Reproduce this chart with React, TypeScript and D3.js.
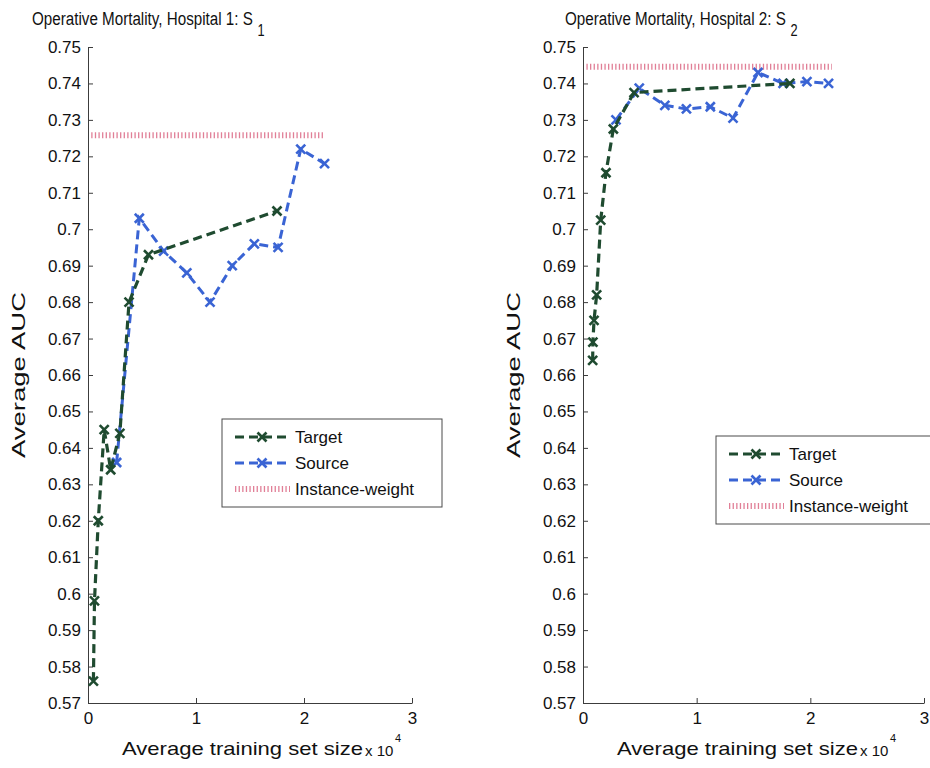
import React, { useRef, useEffect } from 'react'
import { select, line, scaleLinear, axisBottom, axisLeft } from 'd3'

// y ticks (AUC), x ticks in units of 10^4
const yTicks = [0.57, 0.58, 0.59, 0.6, 0.61, 0.62, 0.63, 0.64, 0.65, 0.66, 0.67, 0.68, 0.69, 0.7, 0.71, 0.72, 0.73, 0.74, 0.75]
const xTicks = [0, 1, 2, 3]

// Hospital 1
const h1TargetX = [500, 600, 950, 1500, 2100, 2950, 3800, 5600, 17500]
const h1TargetY = [0.576, 0.598, 0.62, 0.645, 0.634, 0.644, 0.68, 0.693, 0.705]
const h1SourceX = [2650, 4750, 7000, 9150, 11300, 13350, 15400, 17600, 19700, 21900]
const h1SourceY = [0.636, 0.703, 0.694, 0.688, 0.68, 0.69, 0.696, 0.695, 0.722, 0.718]
const h1Instance = 0.7258
const h1InstanceX = [300, 21800]

// Hospital 2
const h2TargetX = [850, 870, 970, 1200, 1560, 2020, 2670, 4490, 18200]
const h2TargetY = [0.664, 0.669, 0.675, 0.682, 0.7025, 0.7155, 0.7275, 0.7375, 0.74]
const h2SourceX = [2900, 4950, 7200, 9100, 11200, 13200, 15400, 17600, 19700, 21600]
const h2SourceY = [0.73, 0.7387, 0.734, 0.733, 0.7336, 0.7305, 0.743, 0.74, 0.7405, 0.74]
const h2Instance = 0.7446
const h2InstanceX = [300, 21900]

const legendLabels = ['Target', 'Source', 'Instance-weight']

const targetColor = '#1f4b30'
const sourceColor = '#3a64d4'
const instanceColor = '#dc6a86'
const font = 'Liberation Sans, Arial, Helvetica, sans-serif'

function Cross({ cx, cy, color }) {
  const r = 4.5
  return (
    <g stroke={color} strokeWidth={2.6}>
      <line x1={cx - r} y1={cy - r} x2={cx + r} y2={cy + r} />
      <line x1={cx - r} y1={cy + r} x2={cx + r} y2={cy - r} />
    </g>
  )
}

function Panel({ left, right, title, sub, titleX, tx, ty, sx, sy, inst, instX, legend }) {
  const top = 47
  const bottom = 703
  const axRef = useRef()

  const x = scaleLinear().domain([0, 30000]).range([left, right])
  const y = scaleLinear().domain([0.57, 0.75]).range([bottom, top])

  useEffect(() => {
    const g = select(axRef.current)
    const yAxis = axisLeft(y)
      .tickValues(yTicks)
      .tickSizeInner(-5)
      .tickSizeOuter(0)
      .tickPadding(7)
      .tickFormat(d => String(+d.toFixed(2)))
    g.select('.y-axis').attr('transform', `translate(${left},0)`).call(yAxis)

    const xAxis = axisBottom(x)
      .tickValues(xTicks.map(v => v * 10000))
      .tickSizeInner(-5)
      .tickSizeOuter(0)
      .tickPadding(9)
      .tickFormat(d => String(d / 10000))
    g.select('.x-axis').attr('transform', `translate(0,${bottom})`).call(xAxis)

    g.selectAll('path.domain').attr('stroke', '#3c3c3c')
    g.selectAll('.tick line').attr('stroke', '#3c3c3c')
    g.selectAll('.tick text')
      .attr('font-size', 17)
      .attr('font-family', font)
      .attr('fill', '#111')
  }, [])

  const path = line()
    .x(d => x(d[0]))
    .y(d => y(d[1]))

  const tPts = tx.map((v, i) => [v, ty[i]])
  const sPts = sx.map((v, i) => [v, sy[i]])

  const lg = legend
  const rows = [lg.y + 18, lg.y + 44, lg.y + 70]

  return (
    <g>
      <g ref={axRef}>
        <g className="y-axis" />
        <g className="x-axis" />
      </g>

      <line x1={x(instX[0])} x2={x(instX[1])} y1={y(inst)} y2={y(inst)}
        stroke={instanceColor} strokeWidth={6} strokeDasharray="1.3,2.3" opacity={0.85} />

      <path d={path(sPts)} fill="none" stroke={sourceColor} strokeWidth={3} strokeDasharray="9,5" />
      {sPts.map((p, i) => <Cross key={'s' + i} cx={x(p[0])} cy={y(p[1])} color={sourceColor} />)}

      <path d={path(tPts)} fill="none" stroke={targetColor} strokeWidth={3.2} strokeDasharray="9,5" />
      {tPts.map((p, i) => <Cross key={'t' + i} cx={x(p[0])} cy={y(p[1])} color={targetColor} />)}

      <text transform={`translate(${titleX},25) scale(0.8,1)`} fontSize={19} fontFamily={font} fill="#111">
        {title}<tspan dx={6} dy={11} fontSize={16}>{sub}</tspan>
      </text>

      <text transform={`translate(${left - 63},375) rotate(-90)`} textAnchor="middle" fontSize={19} fontFamily={font} fill="#111" textLength={166} lengthAdjust="spacingAndGlyphs">Average AUC</text>

      <text x={left + 34} y={755} fontSize={19} fontFamily={font} fill="#111" textLength={241} lengthAdjust="spacingAndGlyphs">Average training set size</text>
      <text x={left + 277} y={756} fontSize={15} fontFamily={font} fill="#111">x 10</text>
      <text x={left + 307} y={742} fontSize={11} fontFamily={font} fill="#111">4</text>

      <rect x={lg.x} y={lg.y} width={lg.w} height={lg.h} fill="white" stroke="#4a4a4a" strokeWidth={1} />
      {[targetColor, sourceColor].map((c, i) => (
        <g key={'lg' + i}>
          <line x1={lg.x + 13} x2={lg.x + 68} y1={rows[i]} y2={rows[i]} stroke={c} strokeWidth={3} strokeDasharray="9,5" />
          <Cross cx={lg.x + 40} cy={rows[i]} color={c} />
        </g>
      ))}
      <line x1={lg.x + 13} x2={lg.x + 68} y1={rows[2]} y2={rows[2]} stroke={instanceColor} strokeWidth={6} strokeDasharray="1.3,2.3" opacity={0.85} />
      {legendLabels.map((t, i) => (
        <text key={t} x={lg.x + 73} y={rows[i] + 6} fontSize={17} fontFamily={font} fill="#111">{t}</text>
      ))}
    </g>
  )
}

export default function App() {
  return (
    <svg width={930} height={768} style={{ position: 'absolute', left: 0, top: 0, background: 'white' }}>
      <Panel left={88} right={412} title="Operative Mortality, Hospital 1: S" sub="1" titleX={32}
        tx={h1TargetX} ty={h1TargetY} sx={h1SourceX} sy={h1SourceY}
        inst={h1Instance} instX={h1InstanceX}
        legend={{ x: 222, y: 419, w: 220, h: 88 }} />
      <Panel left={583} right={924} title="Operative Mortality, Hospital 2: S" sub="2" titleX={565}
        tx={h2TargetX} ty={h2TargetY} sx={h2SourceX} sy={h2SourceY}
        inst={h2Instance} instX={h2InstanceX}
        legend={{ x: 716, y: 436, w: 225, h: 88 }} />
    </svg>
  )
}
